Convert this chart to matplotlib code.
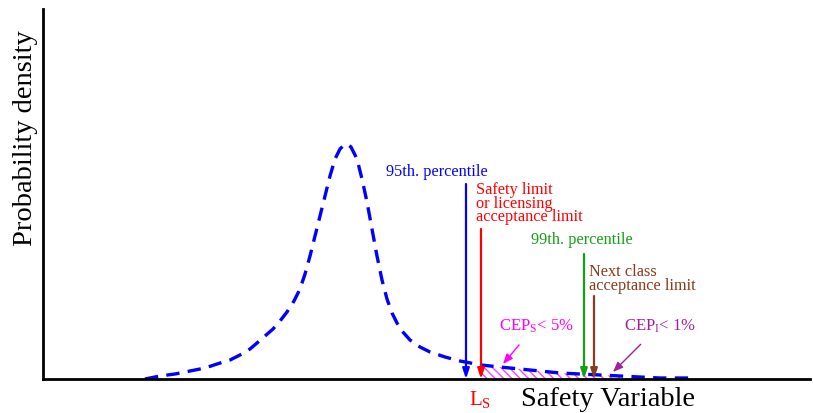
import numpy as np
import matplotlib as mlt
mlt.use('Agg')
from matplotlib import pyplot as plt

plt.rcParams['font.family'] = ['Liberation Serif', 'DejaVu Serif']
plt.rcParams['mathtext.fontset'] = 'custom'
plt.rcParams['mathtext.rm'] = 'Liberation Serif'
plt.rcParams['mathtext.it'] = 'Liberation Serif:italic'

# schematic pdf of the safety variable (arbitrary units)
x_pdf = [145, 160, 175, 190, 205, 217, 230, 240, 250, 257, 265, 273, 280, 287,
         294, 300, 305, 310, 315, 320, 325, 330, 335, 340, 344, 347, 351, 357,
         362, 367, 372, 377, 382, 387, 392, 397, 402, 410, 420, 430, 445, 460, 481,
         500, 520, 540, 560, 580, 600, 620, 640, 660, 690]
y_pdf = [0, 3, 5, 8, 11, 15, 19, 24, 30, 36, 43, 50, 58, 67,
         78, 90, 105, 123, 143, 163, 183, 203, 220, 230, 234, 235, 232, 220,
         200, 177, 150, 123, 99, 80, 66, 56, 48, 39, 32, 27, 22, 18, 14,
         12, 10, 8, 6, 5, 4, 3, 2, 1, 1]

# vertical markers: position, arrow top
p95_x, p95_top = 466, 195
ls_x, ls_top = 481, 150
p99_x, p99_top = 584, 125
next_x, next_top = 594, 83
tail_end = 625

x_pdf = np.array(x_pdf, dtype=float)
y_pdf = np.array(y_pdf, dtype=float)

fig = plt.figure(figsize=(8.13, 4.14), dpi=100)
ax = fig.add_axes([43/813, 34/414, 767/813, 370/414])
ax.set_xlim(43, 810)
ax.set_ylim(0, 370)
for s in ['top', 'right']:
    ax.spines[s].set_visible(False)
for s in ['left', 'bottom']:
    ax.spines[s].set_linewidth(2)
ax.set_xticks([])
ax.set_yticks([])

# hatched tail beyond the safety limit
m = (x_pdf >= ls_x) & (x_pdf <= tail_end)
ax.fill_between(x_pdf[m], 0, y_pdf[m], facecolor='none', edgecolor='#ff44ff',
                hatch='\\\\\\\\', linewidth=0)

ax.plot(x_pdf, y_pdf, color='#0000ff', linewidth=2.4, linestyle=(0, (4, 2.5)))

def vline(x, top, col):
    ax.annotate('', xy=(x, 0), xytext=(x, top),
                arrowprops=dict(arrowstyle='-|>,head_length=0.6,head_width=0.2',
                                color=col, lw=1.6, shrinkA=0, shrinkB=0))

vline(p95_x, p95_top, '#0000ff')
vline(ls_x, ls_top, '#ff0000')
vline(p99_x, p99_top, '#13a013')
vline(next_x, next_top, '#8b3a1a')

fs = 11.7
ax.text(437, 208, '95th. percentile', color='#0000ff', fontsize=fs, ha='center', va='center')
ax.text(476, 198, 'Safety limit\nor licensing\nacceptance limit', color='#ff0000',
        fontsize=fs, ha='left', va='top', linespacing=0.8)
ax.text(582, 140, '99th. percentile', color='#13a013', fontsize=fs, ha='center', va='center')
ax.text(589, 116, 'Next class\nacceptance limit', color='#8b3a1a',
        fontsize=fs, ha='left', va='top', linespacing=0.85)

ax.annotate('CEP$_{\\rm S}$< 5%', xy=(503, 15), xytext=(536, 54), color='#ff00ff',
            fontsize=12, ha='center', va='center',
            arrowprops=dict(arrowstyle='-|>,head_length=0.5,head_width=0.2',
                            color='#ff00ff', lw=1, shrinkA=8, shrinkB=0))
ax.annotate('CEP$_{\\rm I}$< 1%', xy=(613, 7), xytext=(660, 54), color='#a020a0',
            fontsize=12, ha='center', va='center',
            arrowprops=dict(arrowstyle='-|>,head_length=0.5,head_width=0.2',
                            color='#a020a0', lw=1, shrinkA=8, shrinkB=0))

ax.text(480, -20, 'L$_{\\rm S}$', color='#ff0000', fontsize=15, ha='center', va='center',
        clip_on=False)
ax.text(608, -20, 'Safety Variable', color='black', fontsize=20.5, ha='center', va='center',
        clip_on=False)
fig.text(25/813, 1 - 138/414, 'Probability density', fontsize=20.5, rotation=90,
         ha='center', va='center')

plt.savefig('out.png', dpi=100)
